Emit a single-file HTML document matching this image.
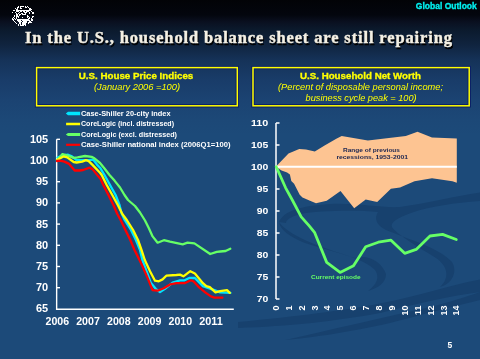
<!DOCTYPE html>
<html><head><meta charset="utf-8"><style>
html,body{margin:0;padding:0;width:480px;height:359px;overflow:hidden;}
body{background:linear-gradient(to bottom,#020306 0px,#03060e 15px,#0a1020 22px,#0b1a2d 30px,#10243f 45px,#153258 60px,#193c69 80px,#1b4372 100px,#1c4877 120px,#1c4a79 135px,#1c4a79 359px);font-family:"Liberation Sans",sans-serif;}
svg{position:absolute;left:0;top:0;will-change:transform;}
</style></head><body>
<svg width="480" height="359" viewBox="0 0 480 359">
<g fill="#17416e">
<path d="M279,222 C284,211 300,206 330,204 C360,203 380,208 400,207 C430,203 455,196 480,192.5 L480,201 C455,203 430,206 411,213 C398,218 390,222 392,227 C396,234 420,248 436,258 C448,266 450,278 440,287 C452,284 458,272 452,262 C440,248 405,238 386,230 C376,225 374,218 378,212 C360,210 320,210 300,214 C290,217 286,220 286,223 Z"/>
<path d="M279,222 C290,238 330,250 355,258 C368,254 382,262 386,274 C386,283 378,288 368,291 C377,284 380,277 375,270 C364,258 330,251 305,243 C290,237 280,230 279,222 Z"/>
<path d="M238,322 C300,316 340,311 380,303.5 C420,296 450,285 480,279.6 L480,292 C450,296 420,303 380,313 C330,322 290,326 238,328 Z"/>
<path d="M285,340 C330,330 380,318 430,307 C450,302 465,297 480,292 L480,300 C455,306 420,315 390,323 C350,332 310,338 285,340 Z"/>
</g>
<g fill="#fff"><rect x="18" y="6" width="1" height="1"/><rect x="20" y="6" width="4" height="1"/><rect x="25" y="6" width="1" height="1"/><rect x="27" y="6" width="1" height="1"/><rect x="17" y="7" width="2" height="1"/><rect x="20" y="7" width="1" height="1"/><rect x="25" y="7" width="2" height="1"/><rect x="28" y="7" width="1" height="1"/><rect x="15" y="8" width="1" height="1"/><rect x="17" y="8" width="1" height="1"/><rect x="20" y="8" width="2" height="1"/><rect x="29" y="8" width="2" height="1"/><rect x="16" y="9" width="2" height="1"/><rect x="29" y="9" width="3" height="1"/><rect x="13" y="10" width="2" height="1"/><rect x="16" y="10" width="15" height="1"/><rect x="16" y="11" width="3" height="1"/><rect x="20" y="11" width="2" height="1"/><rect x="23" y="11" width="2" height="1"/><rect x="26" y="11" width="3" height="1"/><rect x="31" y="11" width="1" height="1"/><rect x="12" y="12" width="1" height="1"/><rect x="15" y="12" width="1" height="1"/><rect x="19" y="12" width="1" height="1"/><rect x="24" y="12" width="3" height="1"/><rect x="29" y="12" width="1" height="1"/><rect x="32" y="12" width="2" height="1"/><rect x="16" y="13" width="1" height="1"/><rect x="18" y="13" width="1" height="1"/><rect x="21" y="13" width="2" height="1"/><rect x="25" y="13" width="1" height="1"/><rect x="29" y="13" width="1" height="1"/><rect x="32" y="13" width="2" height="1"/><rect x="16" y="14" width="2" height="1"/><rect x="19" y="14" width="2" height="1"/><rect x="22" y="14" width="4" height="1"/><rect x="14" y="15" width="1" height="1"/><rect x="16" y="15" width="2" height="1"/><rect x="19" y="15" width="1" height="1"/><rect x="27" y="15" width="1" height="1"/><rect x="14" y="16" width="1" height="1"/><rect x="16" y="16" width="3" height="1"/><rect x="27" y="16" width="2" height="1"/><rect x="32" y="16" width="2" height="1"/><rect x="13" y="17" width="1" height="1"/><rect x="16" y="17" width="1" height="1"/><rect x="18" y="17" width="1" height="1"/><rect x="22" y="17" width="1" height="1"/><rect x="27" y="17" width="1" height="1"/><rect x="29" y="17" width="1" height="1"/><rect x="32" y="17" width="1" height="1"/><rect x="12" y="18" width="1" height="1"/><rect x="14" y="18" width="1" height="1"/><rect x="16" y="18" width="1" height="1"/><rect x="28" y="18" width="2" height="1"/><rect x="31" y="18" width="1" height="1"/><rect x="12" y="19" width="2" height="1"/><rect x="15" y="19" width="1" height="1"/><rect x="17" y="19" width="12" height="1"/><rect x="31" y="19" width="2" height="1"/><rect x="13" y="20" width="1" height="1"/><rect x="17" y="20" width="4" height="1"/><rect x="22" y="20" width="8" height="1"/><rect x="31" y="20" width="2" height="1"/><rect x="14" y="21" width="1" height="1"/><rect x="18" y="21" width="4" height="1"/><rect x="23" y="21" width="4" height="1"/><rect x="29" y="21" width="2" height="1"/><rect x="15" y="22" width="1" height="1"/><rect x="19" y="22" width="2" height="1"/><rect x="22" y="22" width="5" height="1"/><rect x="28" y="22" width="4" height="1"/><rect x="16" y="23" width="1" height="1"/><rect x="19" y="23" width="2" height="1"/><rect x="22" y="23" width="4" height="1"/><rect x="28" y="23" width="1" height="1"/><rect x="18" y="24" width="1" height="1"/><rect x="20" y="24" width="1" height="1"/><rect x="22" y="24" width="4" height="1"/><rect x="18" y="25" width="1" height="1"/><rect x="20" y="25" width="4" height="1"/><rect x="25" y="25" width="1" height="1"/></g>
<text x="415.8" y="9.3" font-family='"Liberation Sans", sans-serif' font-weight="bold" font-size="9" fill="#00f0f0" stroke="#00f0f0" stroke-width="0.35" textLength="61" lengthAdjust="spacingAndGlyphs">Global Outlook</text>
<text x="26.1" y="44.8" font-family='"Liberation Serif", serif' font-weight="bold" font-size="16.5" fill="#000" stroke="#000" stroke-width="0.4" textLength="427" lengthAdjust="spacing">In the U.S., household balance sheet are still repairing</text>
<text x="25" y="43.4" font-family='"Liberation Serif", serif' font-weight="bold" font-size="16.5" fill="#f4f0e4" stroke="#f4f0e4" stroke-width="0.4" textLength="427" lengthAdjust="spacing">In the U.S., household balance sheet are still repairing</text>
<rect x="36.6" y="67.6" width="200.7" height="38.2" fill="none" stroke="#0a1f66" stroke-width="3.4"/>
<rect x="253" y="67.6" width="216.2" height="38.2" fill="none" stroke="#0a1f66" stroke-width="3.4"/>
<rect x="36.6" y="67.6" width="200.7" height="38.2" fill="none" stroke="#ffff00" stroke-width="1.5"/>
<rect x="253" y="67.6" width="216.2" height="38.2" fill="none" stroke="#ffff00" stroke-width="1.5"/>
<text x="78.7" y="78.7" font-family='"Liberation Sans", sans-serif' font-weight="bold" font-size="9.1" fill="#ffff00" stroke="#ffff00" stroke-width="0.3" textLength="114.6" lengthAdjust="spacingAndGlyphs">U.S. House Price Indices</text>
<text x="94" y="90.3" font-family='"Liberation Sans", sans-serif' font-style="italic" font-size="9" fill="#ffff00" textLength="86" lengthAdjust="spacingAndGlyphs">(January 2006 =100)</text>
<text x="300" y="78.6" font-family='"Liberation Sans", sans-serif' font-weight="bold" font-size="9.1" fill="#ffff00" stroke="#ffff00" stroke-width="0.3" textLength="121" lengthAdjust="spacingAndGlyphs">U.S. Household Net Worth</text>
<text x="278" y="90.3" font-family='"Liberation Sans", sans-serif' font-style="italic" font-size="9" fill="#ffff00" textLength="165" lengthAdjust="spacingAndGlyphs">(Percent of disposable personal income;</text>
<text x="305.6" y="101.3" font-family='"Liberation Sans", sans-serif' font-style="italic" font-size="9" fill="#ffff00" textLength="111" lengthAdjust="spacingAndGlyphs">business cycle peak = 100)</text>
<path d="M65.8,113.5 L68,111.85 H80.1 V115.15 H68 Z" fill="#00e5ff"/>
<text x="81" y="116.0" font-family='"Liberation Sans", sans-serif' font-weight="bold" font-size="7.6" fill="#fff" textLength="89.6" lengthAdjust="spacingAndGlyphs">Case-Shiller 20-city index</text>
<rect x="66.1" y="122.75" width="14" height="2.5" fill="#ffff00"/>
<text x="81" y="126.4" font-family='"Liberation Sans", sans-serif' font-weight="bold" font-size="7.6" fill="#fff" textLength="93.0" lengthAdjust="spacingAndGlyphs">CoreLogic (incl. distressed)</text>
<path d="M65.8,134.5 L68,133.10 H80.1 V135.90 H68 Z" fill="#66ff66"/>
<text x="81" y="136.8" font-family='"Liberation Sans", sans-serif' font-weight="bold" font-size="7.6" fill="#fff" textLength="96.0" lengthAdjust="spacingAndGlyphs">CoreLogic (excl. distressed)</text>
<rect x="66.1" y="143.70" width="14" height="2.2" fill="#ff0000"/>
<text x="81" y="147.2" font-family='"Liberation Sans", sans-serif' font-weight="bold" font-size="7.6" fill="#fff" textLength="149.6" lengthAdjust="spacingAndGlyphs">Case-Shiller national index (2006Q1=100)</text>
<g stroke="#fff" stroke-width="1.4" fill="none">
<path d="M56.65,139.3 V309.2 H233.8"/>
<path d="M56.65,139.3 H60"/>
<path d="M56.65,160.5 H60"/>
<path d="M56.65,181.7 H60"/>
<path d="M56.65,202.9 H60"/>
<path d="M56.65,224.1 H60"/>
<path d="M56.65,245.3 H60"/>
<path d="M56.65,266.5 H60"/>
<path d="M56.65,287.7 H60"/>
</g>
<text x="48.2" y="142.8" text-anchor="end" font-family='"Liberation Sans", sans-serif' font-weight="bold" font-size="10" fill="#fff" textLength="18.3" lengthAdjust="spacingAndGlyphs">105</text>
<text x="48.2" y="164.0" text-anchor="end" font-family='"Liberation Sans", sans-serif' font-weight="bold" font-size="10" fill="#fff" textLength="18.3" lengthAdjust="spacingAndGlyphs">100</text>
<text x="48.2" y="185.2" text-anchor="end" font-family='"Liberation Sans", sans-serif' font-weight="bold" font-size="10" fill="#fff" textLength="12.2" lengthAdjust="spacingAndGlyphs">95</text>
<text x="48.2" y="206.4" text-anchor="end" font-family='"Liberation Sans", sans-serif' font-weight="bold" font-size="10" fill="#fff" textLength="12.2" lengthAdjust="spacingAndGlyphs">90</text>
<text x="48.2" y="227.6" text-anchor="end" font-family='"Liberation Sans", sans-serif' font-weight="bold" font-size="10" fill="#fff" textLength="12.2" lengthAdjust="spacingAndGlyphs">85</text>
<text x="48.2" y="248.8" text-anchor="end" font-family='"Liberation Sans", sans-serif' font-weight="bold" font-size="10" fill="#fff" textLength="12.2" lengthAdjust="spacingAndGlyphs">80</text>
<text x="48.2" y="270.0" text-anchor="end" font-family='"Liberation Sans", sans-serif' font-weight="bold" font-size="10" fill="#fff" textLength="12.2" lengthAdjust="spacingAndGlyphs">75</text>
<text x="48.2" y="291.2" text-anchor="end" font-family='"Liberation Sans", sans-serif' font-weight="bold" font-size="10" fill="#fff" textLength="12.2" lengthAdjust="spacingAndGlyphs">70</text>
<text x="48.2" y="312.4" text-anchor="end" font-family='"Liberation Sans", sans-serif' font-weight="bold" font-size="10" fill="#fff" textLength="12.2" lengthAdjust="spacingAndGlyphs">65</text>
<text x="45.5" y="325.3" font-family='"Liberation Sans", sans-serif' font-weight="bold" font-size="10" fill="#fff" textLength="23.6" lengthAdjust="spacingAndGlyphs">2006</text>
<text x="76.2" y="325.3" font-family='"Liberation Sans", sans-serif' font-weight="bold" font-size="10" fill="#fff" textLength="23.6" lengthAdjust="spacingAndGlyphs">2007</text>
<text x="107.0" y="325.3" font-family='"Liberation Sans", sans-serif' font-weight="bold" font-size="10" fill="#fff" textLength="23.6" lengthAdjust="spacingAndGlyphs">2008</text>
<text x="137.8" y="325.3" font-family='"Liberation Sans", sans-serif' font-weight="bold" font-size="10" fill="#fff" textLength="23.6" lengthAdjust="spacingAndGlyphs">2009</text>
<text x="168.5" y="325.3" font-family='"Liberation Sans", sans-serif' font-weight="bold" font-size="10" fill="#fff" textLength="23.6" lengthAdjust="spacingAndGlyphs">2010</text>
<text x="199.2" y="325.3" font-family='"Liberation Sans", sans-serif' font-weight="bold" font-size="10" fill="#fff" textLength="23.6" lengthAdjust="spacingAndGlyphs">2011</text>
<g fill="none" stroke-width="2.3" stroke-linejoin="round" stroke-linecap="round">
<polyline points="57.5,157.6 62.5,155.5 68.1,154.7 71.9,156.4 76.6,160.2 81.2,160.2 88.7,160.2 93.4,159.7 97.2,164.9 100.0,167.7 104.5,175.0 110.0,185.0 115.6,195.0 119.5,205.0 121.5,213.0 124.7,220.0 131.0,230.0 135.9,240.0 140.0,250.0 142.4,260.0 150.7,282.6 155.7,288.8 160.0,292.0 165.0,288.8 172.6,282.6 180.0,280.3 184.6,280.3 189.2,278.0 194.9,278.0 202.9,286.1 214.4,290.1 220.1,292.4 230.4,292.9" stroke="#00e5ff"/>
<polyline points="57.0,160.2 62.5,154.1 66.2,155.0 73.7,157.8 77.5,157.4 85.0,156.0 91.6,156.9 94.4,158.3 100.0,163.0 104.5,168.5 109.5,175.0 114.5,180.6 116.7,183.4 120.0,187.5 124.5,195.0 128.0,200.0 135.0,206.0 140.0,212.5 145.0,220.5 149.0,228.5 152.6,236.4 157.6,242.7 163.9,240.2 170.0,241.7 182.7,244.3 187.5,242.7 194.4,243.4 210.2,254.0 216.8,251.8 220.3,251.5 225.6,251.0 230.3,248.8" stroke="#66ff66"/>
<polyline points="57.0,160.0 63.4,156.4 67.2,157.4 73.7,162.0 76.6,162.5 82.2,161.6 85.9,160.2 88.7,161.1 92.5,164.9 100.0,172.8 101.7,175.0 106.7,185.0 112.3,195.0 117.8,205.0 122.3,214.0 126.8,220.0 133.1,230.0 138.0,240.0 141.5,250.0 144.8,260.0 150.0,271.3 155.0,280.7 158.8,281.3 162.6,279.4 166.3,275.7 176.4,275.0 180.0,274.6 183.4,276.3 190.3,271.2 194.9,273.5 202.9,283.2 206.3,286.1 209.8,287.2 215.5,292.4 220.1,291.2 227.0,290.1 229.8,292.9" stroke="#ffff00"/>
<polyline points="57.0,161.0 59.7,160.7 64.4,161.6 69.1,163.9 74.7,170.5 79.4,170.5 83.1,170.0 89.7,167.7 92.5,169.1 98.1,176.1 100.6,179.0 103.3,185.0 108.4,195.0 113.4,205.0 117.3,214.0 120.6,220.0 125.4,230.0 130.3,240.0 134.5,250.0 139.5,260.0 142.5,266.3 147.5,277.6 152.5,290.1 157.6,290.7 163.8,288.2 170.1,284.4 176.4,283.2 184.6,283.2 190.9,280.3 193.7,281.5 198.3,286.6 205.2,292.4 210.9,296.4 214.4,297.7 222.4,297.7" stroke="#ff0000"/>
</g>
<polygon points="276.0,166.5 288.5,153.4 299.2,148.9 306.0,149.5 314.8,151.4 324.6,145.6 336.3,138.8 341.7,136.0 367.9,140.4 405.8,136.0 417.5,131.7 432.0,137.5 456.8,138.4 456.8,182.7 452.4,181.2 432.0,178.3 414.5,181.2 400.0,187.5 390.9,188.7 377.2,202.0 365.7,199.4 354.2,208.2 340.5,191.0 326.7,200.8 316.0,203.2 309.4,200.4 302.5,197.6 299.7,194.8 296.9,189.2 294.1,183.7 291.3,180.9 289.9,174.6 287.1,172.5 281.6,170.4 276.0,167.0" fill="#fdc492"/>
<path d="M276,166.8 H456.8" stroke="#fff" stroke-width="2"/>
<text x="343" y="152" font-family='"Liberation Sans", sans-serif' font-weight="bold" font-size="6.2" fill="#1a2450" textLength="57" lengthAdjust="spacingAndGlyphs">Range of previous</text>
<text x="336.4" y="159.2" font-family='"Liberation Sans", sans-serif' font-weight="bold" font-size="6.2" fill="#1a2450" textLength="71.6" lengthAdjust="spacingAndGlyphs">recessions, 1953-2001</text>
<g stroke="#fff" stroke-width="1.5" fill="none">
<path d="M276,123 V299"/>
<path d="M276,123.0 H279.5"/>
<path d="M276,145.0 H279.5"/>
<path d="M276,167.0 H279.5"/>
<path d="M276,189.0 H279.5"/>
<path d="M276,211.0 H279.5"/>
<path d="M276,233.0 H279.5"/>
<path d="M276,255.0 H279.5"/>
<path d="M276,277.0 H279.5"/>
<path d="M276,299.0 H279.5"/>
</g>
<text x="268.3" y="126.2" text-anchor="end" font-family='"Liberation Sans", sans-serif' font-weight="bold" font-size="9" fill="#fff" textLength="17.4" lengthAdjust="spacingAndGlyphs">110</text>
<text x="268.3" y="148.2" text-anchor="end" font-family='"Liberation Sans", sans-serif' font-weight="bold" font-size="9" fill="#fff" textLength="17.4" lengthAdjust="spacingAndGlyphs">105</text>
<text x="268.3" y="170.2" text-anchor="end" font-family='"Liberation Sans", sans-serif' font-weight="bold" font-size="9" fill="#fff" textLength="17.4" lengthAdjust="spacingAndGlyphs">100</text>
<text x="268.3" y="192.2" text-anchor="end" font-family='"Liberation Sans", sans-serif' font-weight="bold" font-size="9" fill="#fff" textLength="11.6" lengthAdjust="spacingAndGlyphs">95</text>
<text x="268.3" y="214.2" text-anchor="end" font-family='"Liberation Sans", sans-serif' font-weight="bold" font-size="9" fill="#fff" textLength="11.6" lengthAdjust="spacingAndGlyphs">90</text>
<text x="268.3" y="236.2" text-anchor="end" font-family='"Liberation Sans", sans-serif' font-weight="bold" font-size="9" fill="#fff" textLength="11.6" lengthAdjust="spacingAndGlyphs">85</text>
<text x="268.3" y="258.2" text-anchor="end" font-family='"Liberation Sans", sans-serif' font-weight="bold" font-size="9" fill="#fff" textLength="11.6" lengthAdjust="spacingAndGlyphs">80</text>
<text x="268.3" y="280.2" text-anchor="end" font-family='"Liberation Sans", sans-serif' font-weight="bold" font-size="9" fill="#fff" textLength="11.6" lengthAdjust="spacingAndGlyphs">75</text>
<text x="268.3" y="302.2" text-anchor="end" font-family='"Liberation Sans", sans-serif' font-weight="bold" font-size="9" fill="#fff" textLength="11.6" lengthAdjust="spacingAndGlyphs">70</text>
<text transform="translate(278.8,305.5) rotate(-90)" text-anchor="end" font-family='"Liberation Sans", sans-serif' font-weight="bold" font-size="9" fill="#fff">0</text>
<text transform="translate(291.7,305.5) rotate(-90)" text-anchor="end" font-family='"Liberation Sans", sans-serif' font-weight="bold" font-size="9" fill="#fff">1</text>
<text transform="translate(304.6,305.5) rotate(-90)" text-anchor="end" font-family='"Liberation Sans", sans-serif' font-weight="bold" font-size="9" fill="#fff">2</text>
<text transform="translate(317.5,305.5) rotate(-90)" text-anchor="end" font-family='"Liberation Sans", sans-serif' font-weight="bold" font-size="9" fill="#fff">3</text>
<text transform="translate(330.4,305.5) rotate(-90)" text-anchor="end" font-family='"Liberation Sans", sans-serif' font-weight="bold" font-size="9" fill="#fff">4</text>
<text transform="translate(343.3,305.5) rotate(-90)" text-anchor="end" font-family='"Liberation Sans", sans-serif' font-weight="bold" font-size="9" fill="#fff">5</text>
<text transform="translate(356.2,305.5) rotate(-90)" text-anchor="end" font-family='"Liberation Sans", sans-serif' font-weight="bold" font-size="9" fill="#fff">6</text>
<text transform="translate(369.1,305.5) rotate(-90)" text-anchor="end" font-family='"Liberation Sans", sans-serif' font-weight="bold" font-size="9" fill="#fff">7</text>
<text transform="translate(382.0,305.5) rotate(-90)" text-anchor="end" font-family='"Liberation Sans", sans-serif' font-weight="bold" font-size="9" fill="#fff">8</text>
<text transform="translate(394.9,305.5) rotate(-90)" text-anchor="end" font-family='"Liberation Sans", sans-serif' font-weight="bold" font-size="9" fill="#fff">9</text>
<text transform="translate(407.8,305.5) rotate(-90)" text-anchor="end" font-family='"Liberation Sans", sans-serif' font-weight="bold" font-size="9" fill="#fff">10</text>
<text transform="translate(420.7,305.5) rotate(-90)" text-anchor="end" font-family='"Liberation Sans", sans-serif' font-weight="bold" font-size="9" fill="#fff">11</text>
<text transform="translate(433.6,305.5) rotate(-90)" text-anchor="end" font-family='"Liberation Sans", sans-serif' font-weight="bold" font-size="9" fill="#fff">12</text>
<text transform="translate(446.5,305.5) rotate(-90)" text-anchor="end" font-family='"Liberation Sans", sans-serif' font-weight="bold" font-size="9" fill="#fff">13</text>
<text transform="translate(459.4,305.5) rotate(-90)" text-anchor="end" font-family='"Liberation Sans", sans-serif' font-weight="bold" font-size="9" fill="#fff">14</text>
<polyline points="276.2,166.7 285.6,187.8 292.3,200.0 301.2,216.8 309.0,225.7 314.5,232.3 326.7,262.4 340.1,272.4 353.5,265.7 365.7,246.8 378.3,242.2 391.0,240.2 404.7,253.3 416.2,249.4 430.0,236.0 442.6,234.4 456.3,239.5" fill="none" stroke="#66ff66" stroke-width="2.8" stroke-linejoin="round" stroke-linecap="round"/>
<text x="311" y="279" font-family='"Liberation Sans", sans-serif' font-weight="bold" font-size="5.9" fill="#66ff66" textLength="49.6" lengthAdjust="spacingAndGlyphs">Current episode</text>
<text x="447.6" y="348" font-family='"Liberation Sans", sans-serif' font-weight="bold" font-size="8.5" fill="#fff">5</text>
</svg>
</body></html>
